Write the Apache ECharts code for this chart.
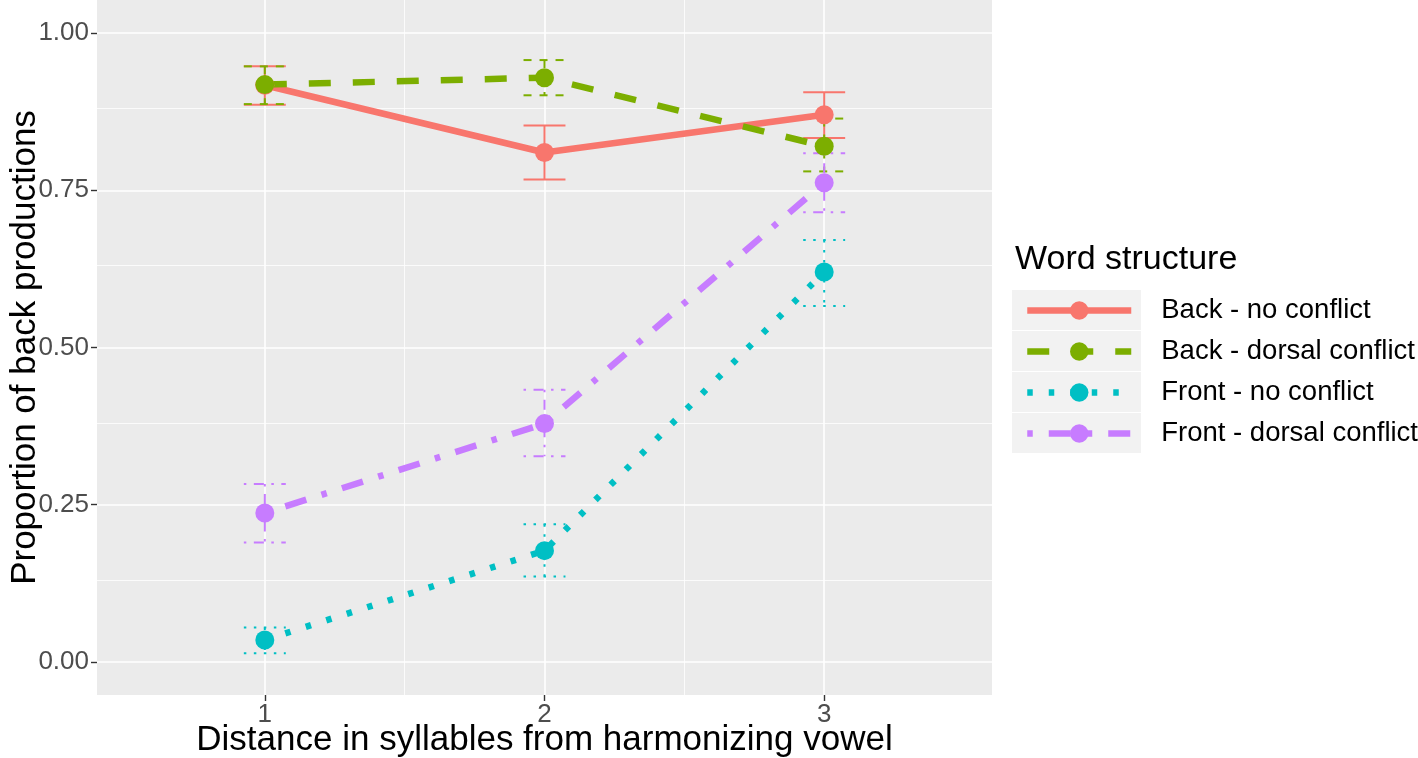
<!DOCTYPE html>
<html lang="en">
<head>
<meta charset="UTF-8" />
<title>Proportion of back productions</title>
<style>
  html, body { margin: 0; padding: 0; background: #fff; }
  #chart { width: 1418px; height: 758px; }
</style>
</head>
<body>
<div id="chart"></div>
<script src="https://cdn.jsdelivr.net/npm/echarts@6/dist/echarts.min.js"></script>
<script>
// distance in syllables
const distances = [1, 2, 3];
const groupNames = ['Back - no conflict', 'Back - dorsal conflict', 'Front - no conflict', 'Front - dorsal conflict'];
const groupColors = ['#F8766D', '#7CAE00', '#00BFC4', '#C77CFF'];

// mean proportion per group
const backNoMean = [0.917, 0.810, 0.870];
const backDorsalMean = [0.918, 0.929, 0.820];
const frontNoMean = [0.035, 0.177, 0.620];
const frontDorsalMean = [0.237, 0.379, 0.762];

// error bar limits
const backNoLow = [0.886, 0.767, 0.833];
const backNoHigh = [0.947, 0.853, 0.906];
const backDorsalLow = [0.887, 0.901, 0.780];
const backDorsalHigh = [0.947, 0.957, 0.864];
const frontNoLow = [0.014, 0.136, 0.566];
const frontNoHigh = [0.055, 0.219, 0.671];
const frontDorsalLow = [0.190, 0.327, 0.715];
const frontDorsalHigh = [0.283, 0.433, 0.809];

const yTicks = [0, 0.25, 0.5, 0.75, 1];
const yMinorTicks = [0.125, 0.375, 0.625, 0.875];
const xMinorTicks = [1.5, 2.5];

const means = [backNoMean, backDorsalMean, frontNoMean, frontDorsalMean];
const lows = [backNoLow, backDorsalLow, frontNoLow, frontDorsalLow];
const highs = [backNoHigh, backDorsalHigh, frontNoHigh, frontDorsalHigh];

const lineDashes = ['solid', [22, 22], [5.5, 16], [5.5, 16, 22, 16]];
const barDashes = [null, [8, 8], [2.5, 7.5], [2.5, 7.5, 10, 7.5]];

const chart = echarts.init(document.getElementById('chart'));

const gridLines = [];
yTicks.forEach(v => gridLines.push({ yAxis: v, lineStyle: { width: 1.6 } }));
yMinorTicks.forEach(v => gridLines.push({ yAxis: v, lineStyle: { width: 0.8 } }));
distances.forEach(v => gridLines.push({ xAxis: v, lineStyle: { width: 1.6 } }));
xMinorTicks.forEach(v => gridLines.push({ xAxis: v, lineStyle: { width: 0.8 } }));

const series = [{
  type: 'line',
  data: [],
  z: 1,
  silent: true,
  markLine: {
    z: 1,
    silent: true,
    symbol: ['none', 'none'],
    label: { show: false },
    lineStyle: { color: '#ffffff', type: 'solid' },
    data: gridLines
  }
}];

// error bars
groupNames.forEach((name, i) => {
  series.push({
    type: 'custom',
    z: 2,
    silent: true,
    clip: false,
    data: distances.map((d, j) => [d, lows[i][j], highs[i][j]]),
    encode: { x: 0, y: [1, 2] },
    renderItem: (params, api) => {
      const x = api.value(0);
      const top = api.coord([x, api.value(2)]);
      const bot = api.coord([x, api.value(1)]);
      const half = api.size([0.075, 0])[0];
      const style = () => ({ stroke: groupColors[i], lineWidth: 2, fill: null, lineDash: barDashes[i] });
      return {
        type: 'group',
        children: [
          { type: 'polyline', shape: { points: [[top[0], top[1]], [bot[0] + 0.01, bot[1]]] }, style: style() },
          { type: 'polyline', shape: { points: [[top[0] - half, top[1]], [top[0] + half, top[1]]] }, style: style() },
          { type: 'polyline', shape: { points: [[bot[0] - half, bot[1]], [bot[0] + half, bot[1]]] }, style: style() }
        ]
      };
    }
  });
});

// lines
groupNames.forEach((name, i) => {
  series.push({
    name: name,
    type: 'line',
    z: 3,
    symbol: 'circle',
    symbolSize: 19,
    showSymbol: false,
    color: groupColors[i],
    lineStyle: { width: 6.5, type: lineDashes[i], cap: 'butt' },
    data: distances.map((d, j) => [d, means[i][j]])
  });
});

// points
groupNames.forEach((name, i) => {
  series.push({
    name: name,
    type: 'scatter',
    z: 4,
    symbol: 'circle',
    symbolSize: 19,
    color: groupColors[i],
    itemStyle: { opacity: 1 },
    data: distances.map((d, j) => [d, means[i][j]])
  });
});

chart.setOption({
  animation: false,
  backgroundColor: '#ffffff',
  grid: {
    left: 97, right: 426, top: 0, bottom: 63,
    outerBoundsMode: 'none',
    containLabel: false,
    show: true, backgroundColor: '#EBEBEB', borderWidth: 0
  },
  title: {
    text: 'Word structure',
    left: 1010, top: 238,
    textStyle: { fontFamily: 'Liberation Sans', fontSize: 34, fontWeight: 'normal', color: '#000' }
  },
  graphic: groupNames.map((n, i) => ({
    type: 'rect',
    shape: { x: 1012, y: 290 + i * 41, width: 129, height: 40 },
    style: { fill: '#F2F2F2' },
    z: -1
  })),
  legend: {
    data: groupNames.map((n, i) => ({
      name: n,
      lineStyle: { width: 6.5, type: lineDashes[i], color: groupColors[i] }
    })),
    orient: 'vertical',
    left: 1024, top: 290,
    padding: 0,
    itemGap: 0,
    itemWidth: 104,
    itemHeight: 23,
    selectedMode: false,
    textStyle: {
      fontFamily: 'Liberation Sans', fontSize: 27.5, color: '#000',
      lineHeight: 41, height: 41, padding: [0, 0, 0, 25]
    }
  },
  xAxis: {
    type: 'value',
    min: 0.4, max: 3.6,
    name: 'Distance in syllables from harmonizing vowel',
    nameLocation: 'middle',
    nameMoveOverlap: false,
    nameGap: 28,
    nameTextStyle: { fontFamily: 'Liberation Sans', fontSize: 35, color: '#000' },
    splitLine: { show: false },
    axisLine: { show: false, onZero: false },
    axisTick: { show: true, customValues: distances, length: 6, lineStyle: { color: '#333', width: 1.4 } },
    axisLabel: {
      customValues: distances, margin: 7,
      fontFamily: 'Liberation Sans', fontSize: 26, color: '#4D4D4D'
    }
  },
  yAxis: {
    type: 'value',
    min: -0.0525, max: 1.0525,
    name: 'Proportion of back productions',
    nameLocation: 'middle',
    nameMoveOverlap: false,
    nameGap: 54,
    nameTextStyle: { fontFamily: 'Liberation Sans', fontSize: 35, color: '#000' },
    splitLine: { show: false },
    axisLine: { show: false, onZero: false },
    axisTick: { show: true, customValues: yTicks, length: 6, lineStyle: { color: '#333', width: 1.4 } },
    axisLabel: {
      customValues: yTicks, margin: 8,
      formatter: v => v.toFixed(2),
      fontFamily: 'Liberation Sans', fontSize: 26, color: '#4D4D4D'
    }
  },
  series: series
});
</script>
</body>
</html>
